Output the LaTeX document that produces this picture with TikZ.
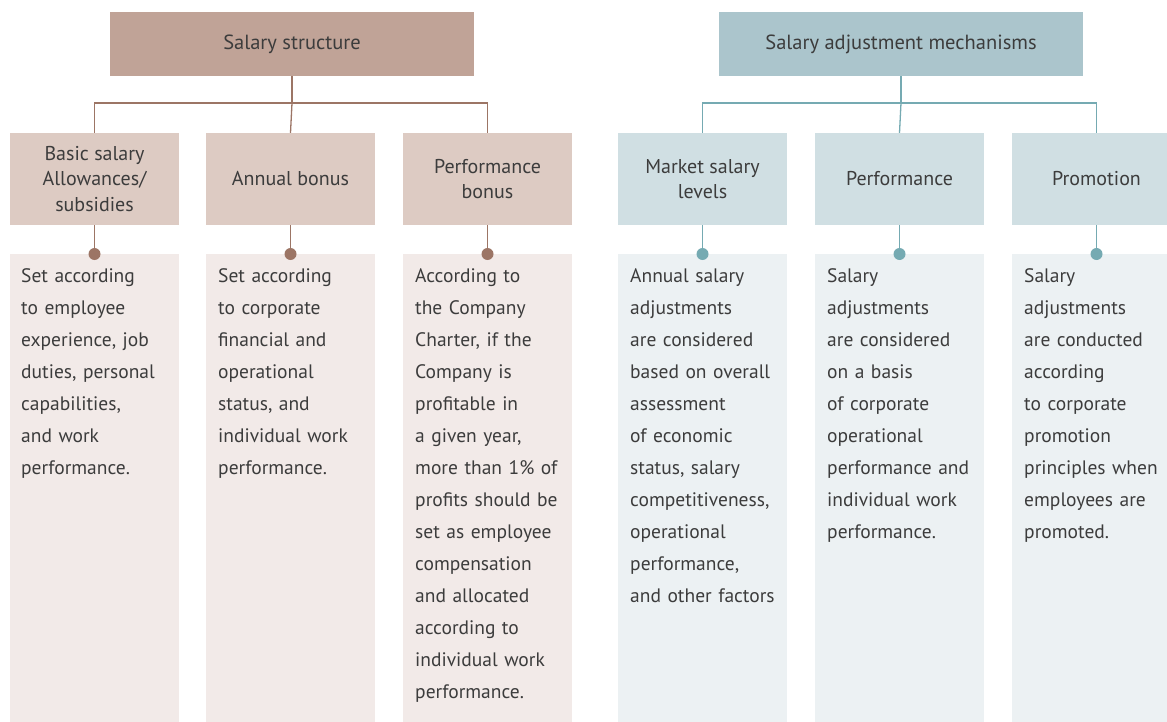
\documentclass[tikz,border=0pt]{standalone}
\usepackage{fontspec}
\setmainfont{PT Sans}
\definecolor{hL}{HTML}{C0A397}
\definecolor{sL}{HTML}{DDCBC3}
\definecolor{dL}{HTML}{F2EAE8}
\definecolor{lL}{HTML}{9C7565}
\definecolor{hR}{HTML}{ABC5CC}
\definecolor{sR}{HTML}{D0DFE3}
\definecolor{dR}{HTML}{ECF1F3}
\definecolor{lR}{HTML}{75AAB2}
\definecolor{txt}{HTML}{3C3C3C}
\begin{document}
\begin{tikzpicture}[x=1pt,y=-1pt,
  every node/.style={text=txt,font=\fontsize{20.5}{26}\selectfont},
  headbox/.style={minimum width=364pt,minimum height=64pt,inner sep=0pt,align=center},
  subbox/.style={minimum width=169pt,minimum height=92pt,inner sep=0pt,align=center,font=\fontsize{20}{25.5}\selectfont},
  detbox/.style={minimum width=169pt,minimum height=480pt,inner sep=0pt,anchor=north},
  dettext/.style={anchor=north west,inner sep=0pt,align=left,text width=160pt,font=\fontsize{19.5}{32}\selectfont},
  dotL/.style={circle,fill=lL,inner sep=0pt,minimum size=12pt},
  dotR/.style={circle,fill=lR,inner sep=0pt,minimum size=12pt},
  conL/.style={lL,line width=1.3pt},
  conR/.style={lR,line width=1.3pt}]
\useasboundingbox (0,0) rectangle (1167,722);
% headers
\node[headbox,fill=hL] (h1) at (292,44) {Salary structure};
\node[headbox,fill=hR] (h2) at (901,44) {Salary adjustment mechanisms};
% sub boxes
\node[subbox,fill=sL] (s1) at (94.5,179) {Basic salary\\Allowances/\\subsidies};
\node[subbox,fill=sL] (s2) at (290.5,179) {Annual bonus};
\node[subbox,fill=sL] (s3) at (487.5,179) {Performance\\bonus};
\node[subbox,fill=sR] (s4) at (702.5,179) {Market salary\\levels};
\node[subbox,fill=sR] (s5) at (899.5,179) {Performance};
\node[subbox,fill=sR] (s6) at (1096.5,179) {Promotion};
% detail boxes
\node[detbox,fill=dL] (d1) at (94.5,254) {};
\node[detbox,fill=dL] (d2) at (290.5,254) {};
\node[detbox,fill=dL] (d3) at (487.5,254) {};
\node[detbox,fill=dR] (d4) at (702.5,254) {};
\node[detbox,fill=dR] (d5) at (899.5,254) {};
\node[detbox,fill=dR] (d6) at (1096.5,254) {};
% connectors
\coordinate (j1) at (292,103);
\coordinate (j2) at (901,103);
\draw[conL] (h1.south) -- (j1);
\draw[conL] (s1.north) |- (j1) -| (s3.north);
\draw[conL] (j1) -- (s2.north);
\draw[conR] (h2.south) -- (j2);
\draw[conR] (s4.north) |- (j2) -| (s6.north);
\draw[conR] (j2) -- (s5.north);
\foreach \i in {1,2,3}{
  \node[dotL] (p\i) at (d\i.north) {};
  \draw[conL] (s\i.south) -- (p\i);
}
\foreach \i in {4,5,6}{
  \node[dotR] (p\i) at (d\i.north) {};
  \draw[conR] (s\i.south) -- (p\i);
}
% texts
\node[dettext] (t1) at (21,268) {Set according\\to employee\\experience, job\\duties, personal\\capabilities,\\and work\\performance.};
\node[dettext] (t2) at (218,268) {Set according\\to corporate\\financial and\\operational\\status, and\\individual work\\performance.};
\node[dettext] (t3) at (415,268) {According to\\the Company\\Charter, if the\\Company is\\profitable in\\a given year,\\more than 1\% of\\profits should be\\set as employee\\compensation\\and allocated\\according to\\individual work\\performance.};
\node[dettext] (t4) at (630,268) {Annual salary\\adjustments\\are considered\\based on overall\\assessment\\of economic\\status, salary\\competitiveness,\\operational\\performance,\\and other factors};
\node[dettext] (t5) at (827,268) {Salary\\adjustments\\are considered\\on a basis\\of corporate\\operational\\performance and\\individual work\\performance.};
\node[dettext] (t6) at (1024,268) {Salary\\adjustments\\are conducted\\according\\to corporate\\promotion\\principles when\\employees are\\promoted.};
\end{tikzpicture}
\end{document}
